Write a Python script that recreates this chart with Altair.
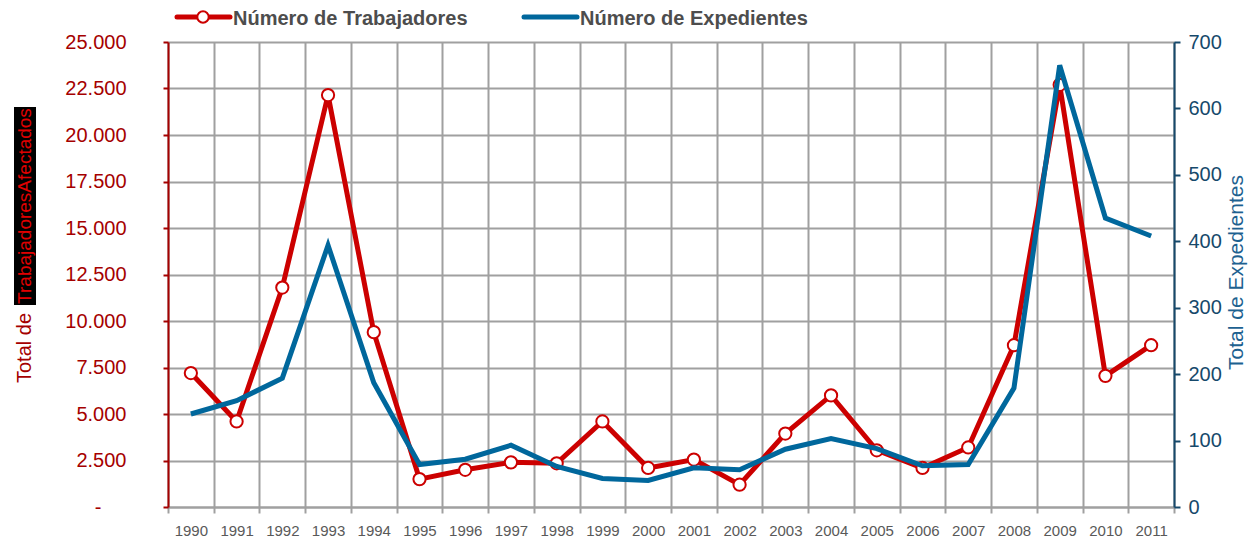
import altair as alt
import pandas as pd

# ---- data ----
years = [str(y) for y in range(1990, 2012)]
trabajadores = [7200, 4600, 11800, 22150, 9400, 1500, 2000, 2400, 2350, 4600, 2100,
                2550, 1200, 3950, 6000, 3050, 2100, 3200, 8700, 22700, 7050, 8700]
expedientes = [140, 160, 194, 394, 187, 64, 72, 93, 61, 43, 40,
               59, 56, 87, 103, 88, 62, 64, 179, 665, 435, 408]
series_names = ["Número de Trabajadores", "Número de Expedientes"]
left_ticks = list(range(0, 25001, 2500))
right_ticks = list(range(0, 701, 100))
left_title = ["Total de", "TrabajadoresAfectados"]
right_title = "Total de Expedientes"

RED = "#CC0000"
DARKRED = "#A50000"
BLUE = "#00679C"
DARKBLUE = "#16496B"
GRID = "#A0A0A0"
FONT = "Liberation Sans"

df = pd.DataFrame({"Año": years, "Trabajadores": trabajadores, "Expedientes": expedientes})

x_enc = alt.X(
    "Año:O",
    scale=alt.Scale(type="band", paddingInner=0, paddingOuter=0),
    bandPosition=0.5,
    title=None,
    axis=alt.Axis(
        orient="bottom", labelAngle=0, labelFont=FONT, labelFontSize=15, labelColor="#595959",
        tickBand="extent", domainColor=GRID, domainWidth=2, tickColor=GRID, tickWidth=2,
        tickSize=6, labelPadding=10, grid=True, gridColor=GRID, gridWidth=2,
    ),
)

left_axis = alt.Axis(
    orient="left", values=left_ticks, title=None,
    labelExpr="datum.value == 0 ? '-' : replace(format(datum.value, ','), ',', '.')",
    labelFont=FONT, labelFontSize=20, labelColor=DARKRED,
    domainColor=DARKRED, domainWidth=2, tickColor=DARKRED, tickWidth=2, tickSize=5,
    labelPadding={"condition": {"test": "datum.value == 0", "value": 62}, "value": 37},
    grid=True, gridColor=GRID, gridWidth=2,
)

right_axis = alt.Axis(
    orient="right", values=right_ticks, title=right_title,
    titleFont=FONT, titleFontSize=21, titleFontWeight="normal", titleColor="#1D6190",
    titleAngle=270, titleX=62, titleY=230, titleAlign="center", titleBaseline="middle",
    labelFont=FONT, labelFontSize=20, labelColor=DARKBLUE,
    domainColor=DARKBLUE, domainWidth=2, tickColor=DARKBLUE, tickWidth=2, tickSize=6,
    labelPadding=8, grid=False,
)

y_left = alt.Y("Trabajadores:Q", scale=alt.Scale(domain=[0, 25000], nice=False), axis=left_axis)
y_right = alt.Y("Expedientes:Q", scale=alt.Scale(domain=[0, 700], nice=False), axis=right_axis)

red_line = alt.Chart(df).mark_line(color=RED, strokeWidth=5).encode(x=x_enc, y=y_left)
red_pts = alt.Chart(df).mark_point(
    shape="circle", filled=True, fill="white", stroke=RED, strokeWidth=2, size=150, opacity=1
).encode(x=x_enc, y=y_left)
blue_line = alt.Chart(df).mark_line(color=BLUE, strokeWidth=5).encode(x=x_enc, y=y_right)

data_layers = alt.layer(alt.layer(red_line, red_pts), blue_line).resolve_scale(y="independent")

# ---- left axis title (with black highlight) ----
t1 = pd.DataFrame({"t": [left_title[0]]})
t2 = pd.DataFrame({"t": [left_title[1]]})
title_bg = alt.Chart(t2).mark_rect(color="black").encode(
    x=alt.value(-154), x2=alt.value(-132), y=alt.value(65), y2=alt.value(263)
)
title_a = alt.Chart(t1).mark_text(
    angle=270, align="center", baseline="middle", font=FONT, fontSize=20, color=DARKRED
).encode(x=alt.value(-143), y=alt.value(306), text="t:N")
title_b = alt.Chart(t2).mark_text(
    angle=270, align="center", baseline="middle", font=FONT, fontSize=19, color="#E00000"
).encode(x=alt.value(-143), y=alt.value(164), text="t:N")

# ---- legend ----
l1 = pd.DataFrame({"t": [series_names[0]]})
l2 = pd.DataFrame({"t": [series_names[1]]})
leg_r_line = alt.Chart(l1).mark_rule(color=RED, strokeWidth=5, strokeCap="round").encode(
    x=alt.value(9), x2=alt.value(62), y=alt.value(-25))
leg_r_pt = alt.Chart(l1).mark_point(
    shape="circle", filled=True, fill="white", stroke=RED, strokeWidth=2, size=130, opacity=1
).encode(x=alt.value(35), y=alt.value(-25))
leg_r_txt = alt.Chart(l1).mark_text(
    align="left", baseline="alphabetic", font=FONT, fontSize=20, fontWeight="bold", color="#4D4D4D"
).encode(x=alt.value(65), y=alt.value(-17), text="t:N")
leg_b_line = alt.Chart(l2).mark_rule(color=BLUE, strokeWidth=5, strokeCap="round").encode(
    x=alt.value(356), x2=alt.value(409), y=alt.value(-25))
leg_b_txt = alt.Chart(l2).mark_text(
    align="left", baseline="alphabetic", font=FONT, fontSize=20, fontWeight="bold", color="#4D4D4D"
).encode(x=alt.value(412), y=alt.value(-17), text="t:N")

chart = alt.layer(
    data_layers, title_bg, title_a, title_b,
    leg_r_line, leg_r_pt, leg_r_txt, leg_b_line, leg_b_txt,
).properties(
    width=1006, height=465,
    autosize=alt.AutoSizeParams(type="none"),
    padding={"left": 160, "top": 34, "right": 76, "bottom": 31},
    background="white",
).configure_view(stroke=None)

chart.save("out.html", embed_options={"renderer": "svg", "actions": False})
